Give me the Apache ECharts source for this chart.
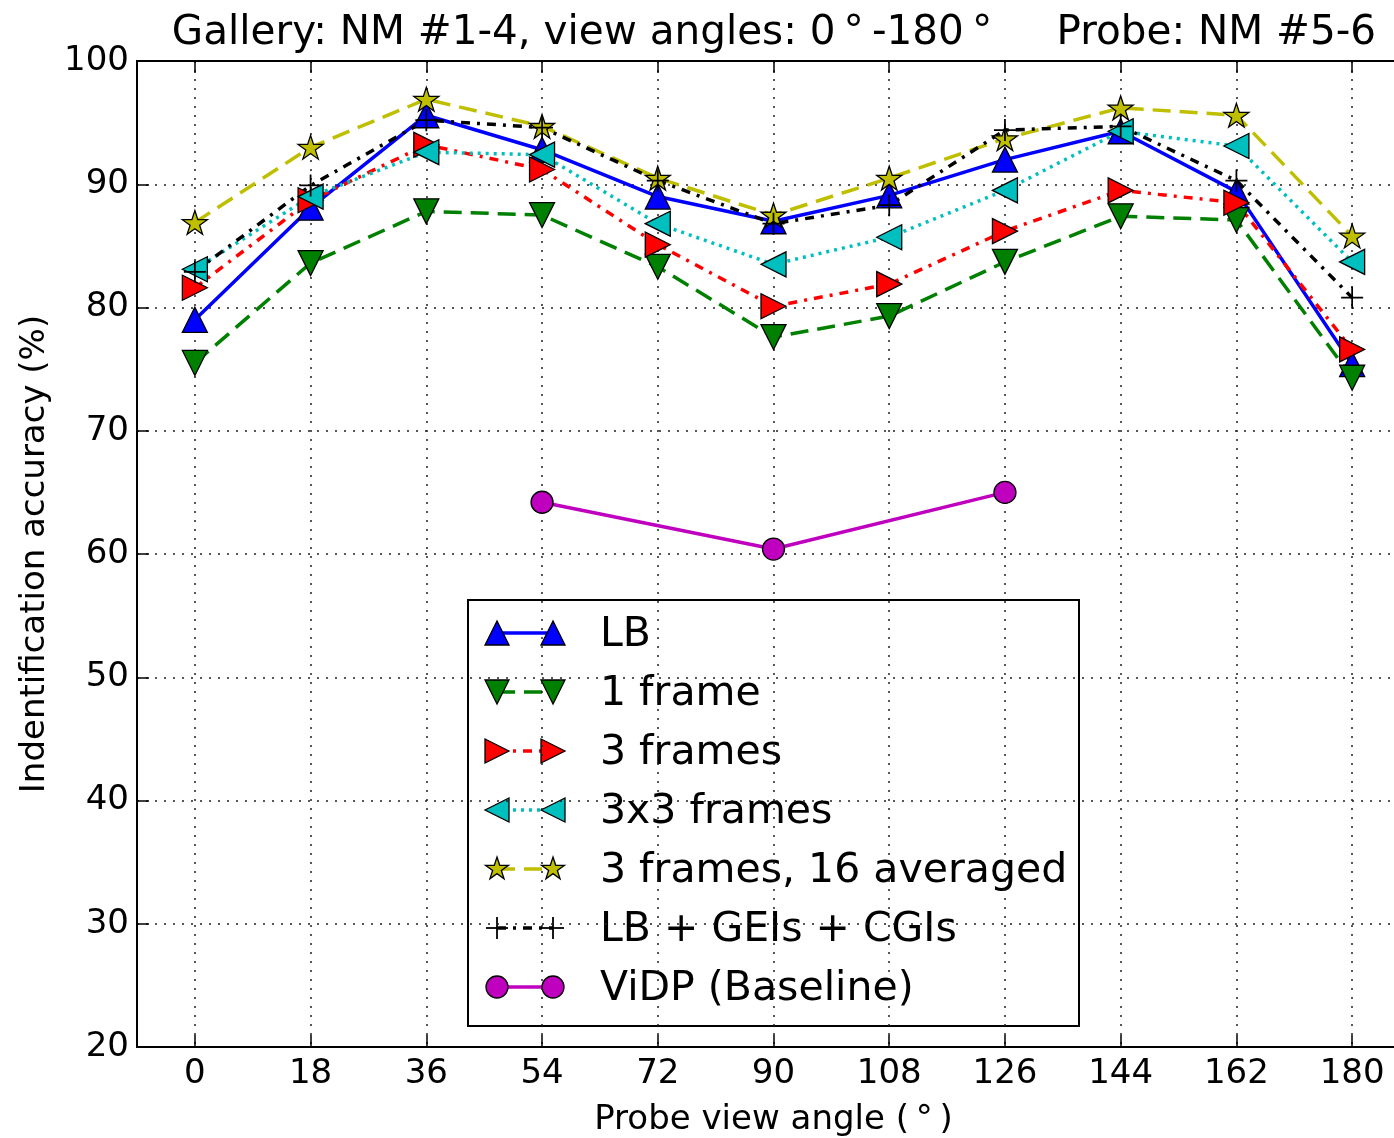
<!DOCTYPE html>
<html>
<head>
<meta charset="utf-8">
<title>Identification accuracy vs probe view angle</title>
<script src="https://cdn.jsdelivr.net/npm/echarts@6/dist/echarts.min.js"></script>
<style>
  html, body { margin: 0; padding: 0; overflow: hidden; background: #fff; }
  #chart { width: 1420px; height: 1138px; }
</style>
</head>
<body>
<div id="chart"></div>
<script>
// Probe view angles (degrees) and tick labels
const angles = [0, 18, 36, 54, 72, 90, 108, 126, 144, 162, 180];
const angleTicks = [0, 18, 36, 54, 72, 90, 108, 126, 144, 162, 180];

// Identification accuracy (%) per method
const lb           = [79.0, 88.1, 95.6, 92.8, 89.0, 87.0, 89.1, 92.0, 94.3, 89.4, 75.4];
const oneFrame     = [75.5, 83.6, 87.8, 87.5, 83.3, 77.6, 79.3, 83.7, 87.4, 87.1, 74.3];
const threeFrames  = [81.6, 88.7, 93.2, 91.2, 85.1, 80.1, 81.9, 86.2, 89.5, 88.5, 76.6];
const threeByThree = [83.1, 89.0, 92.6, 92.4, 86.8, 83.5, 85.7, 89.5, 94.3, 93.1, 83.7];
const averaged16   = [86.9, 93.0, 96.9, 94.7, 90.5, 87.5, 90.5, 93.7, 96.2, 95.6, 85.8];
const combined     = [82.9, 89.9, 95.2, 94.6, 90.3, 86.8, 88.3, 94.4, 94.7, 90.3, 80.8];

// Baseline only reported at three angles
const vidpAngles = [54, 90, 126];
const vidpAcc    = [64.2, 60.4, 65.0];

const FONT = 'DejaVu Sans';
const STAR = 'path://M50,0 L61.23,34.55 L97.55,34.55 L68.16,55.9 L79.39,90.45 L50,69.1 L20.61,90.45 L31.84,55.9 L2.45,34.55 L38.77,34.55 Z';
const PLUS = 'path://M46,0 L54,0 L54,46 L100,46 L100,54 L54,54 L54,100 L46,100 L46,54 L0,54 L0,46 L46,46 Z';

const methods = [
  { name: 'LB', xs: angles, ys: lb, color: '#0000ff', dash: 'solid', marker: 'up' },
  { name: '1 frame', xs: angles, ys: oneFrame, color: '#008000', dash: [18, 9], marker: 'down' },
  { name: '3 frames', xs: angles, ys: threeFrames, color: '#ff0000', dash: [9, 7, 3, 7], marker: 'right' },
  { name: '3x3 frames', xs: angles, ys: threeByThree, color: '#00bfbf', dash: [3, 5], marker: 'left' },
  { name: '3 frames, 16 averaged', xs: angles, ys: averaged16, color: '#bfbf00', dash: [18, 9], marker: 'star' },
  { name: 'LB + GEIs + CGIs', xs: angles, ys: combined, color: '#000000', dash: [9, 7, 3, 7], marker: 'plus' },
  { name: 'ViDP (Baseline)', xs: vidpAngles, ys: vidpAcc, color: '#bf00bf', dash: 'solid', marker: 'circle' }
];

function symbolFor(m) {
  switch (m.marker) {
    case 'up':    return { symbol: 'triangle', symbolRotate: 0, symbolSize: 25 };
    case 'down':  return { symbol: 'triangle', symbolRotate: 180, symbolSize: 25 };
    case 'right': return { symbol: 'triangle', symbolRotate: -90, symbolSize: 25 };
    case 'left':  return { symbol: 'triangle', symbolRotate: 90, symbolSize: 25 };
    case 'star':  return { symbol: STAR, symbolRotate: 0, symbolSize: 25, symbolKeepAspect: true };
    case 'plus':  return { symbol: PLUS, symbolRotate: 0, symbolSize: 22 };
    default:      return { symbol: 'circle', symbolRotate: 0, symbolSize: 22 };
  }
}

const series = methods.map(function (m) {
  const sym = symbolFor(m);
  return Object.assign({
    name: m.name,
    type: 'line',
    data: m.xs.map(function (x, i) { return [x, m.ys[i]]; }),
    showAllSymbol: true,
    lineStyle: { color: m.color, width: 3.5, type: m.dash },
    itemStyle: {
      color: m.color,
      borderColor: '#000',
      borderWidth: m.marker === 'plus' ? 0 : 1.3
    },
    emphasis: { disabled: true },
    animation: false
  }, sym);
});

// Legend box drawn with graphic primitives (line handle between two markers)
function markerShape(kind, cx, cy, color) {
  const s = 24, h = s / 2;
  const edge = { fill: color, stroke: '#000', lineWidth: 1.3 };
  if (kind === 'up')    return { type: 'polygon', shape: { points: [[cx, cy - h], [cx - h, cy + h], [cx + h, cy + h]] }, style: edge };
  if (kind === 'down')  return { type: 'polygon', shape: { points: [[cx, cy + h], [cx - h, cy - h], [cx + h, cy - h]] }, style: edge };
  if (kind === 'right') return { type: 'polygon', shape: { points: [[cx + h, cy], [cx - h, cy - h], [cx - h, cy + h]] }, style: edge };
  if (kind === 'left')  return { type: 'polygon', shape: { points: [[cx - h, cy], [cx + h, cy - h], [cx + h, cy + h]] }, style: edge };
  if (kind === 'star') {
    const pts = [];
    for (let k = 0; k < 10; k++) {
      const r = k % 2 === 0 ? 12 : 4.6;
      const a = -Math.PI / 2 + k * Math.PI / 5;
      pts.push([cx + r * Math.cos(a), cy + r * Math.sin(a)]);
    }
    return { type: 'polygon', shape: { points: pts }, style: edge };
  }
  if (kind === 'plus') {
    return { type: 'group', children: [
      { type: 'line', shape: { x1: cx - 11, y1: cy, x2: cx + 11, y2: cy }, style: { stroke: '#000', lineWidth: 1.8 } },
      { type: 'line', shape: { x1: cx, y1: cy - 11, x2: cx, y2: cy + 11 }, style: { stroke: '#000', lineWidth: 1.8 } }
    ] };
  }
  return { type: 'circle', shape: { cx: cx, cy: cy, r: 11 }, style: edge };
}

const legendChildren = [
  { type: 'rect', shape: { x: 468, y: 600, width: 611, height: 426 }, style: { fill: '#fff', stroke: '#000', lineWidth: 2 } }
];
methods.forEach(function (m, i) {
  const y = 633 + 59 * i;
  legendChildren.push({
    type: 'line', shape: { x1: 497, y1: y, x2: 553, y2: y },
    style: { stroke: m.color, lineWidth: 3.5, lineDash: m.dash === 'solid' ? null : m.dash }
  });
  legendChildren.push(markerShape(m.marker, 497, y, m.color));
  legendChildren.push(markerShape(m.marker, 553, y, m.color));
  legendChildren.push({
    type: 'text', x: 600, y: y + 2,
    style: { text: m.name, fontFamily: FONT, fontSize: 41, fill: '#000', verticalAlign: 'middle', align: 'left' }
  });
});

const titleText = 'Gallery: NM #1-4, view angles: 0\u2009\u00b0\u2009-180\u2009\u00b0' +
  '\u00a0\u00a0\u00a0\u00a0\u00a0Probe: NM #5-6';

const axisText = { fontFamily: FONT, fontSize: 34, color: '#000' };
const gridDots = { color: '#222', width: 1.5, type: [2, 7] };

const option = {
  backgroundColor: '#fff',
  animation: false,
  grid: {
    left: 137, right: 10, top: 61, bottom: 91,
    outerBoundsMode: 'none',
    show: true, borderColor: '#000', borderWidth: 2, backgroundColor: 'transparent'
  },
  xAxis: [
    {
      type: 'value', min: -9, max: 189, position: 'bottom',
      name: 'Probe view angle (\u2009\u00b0\u2009)', nameLocation: 'middle', nameGap: 56,
      nameTextStyle: axisText,
      axisLine: { show: true, onZero: false, lineStyle: { color: '#000', width: 2 } },
      axisTick: { show: true, inside: true, length: 12, customValues: angleTicks, lineStyle: { color: '#000', width: 1.5 } },
      axisLabel: Object.assign({ customValues: angleTicks, margin: 10 }, axisText),
      splitLine: { show: true, lineStyle: gridDots }
    },
    {
      type: 'value', min: -9, max: 189, position: 'top',
      axisLine: { show: true, onZero: false, lineStyle: { color: '#000', width: 2 } },
      axisTick: { show: true, inside: true, length: 12, customValues: angleTicks, lineStyle: { color: '#000', width: 1.5 } },
      axisLabel: { show: false },
      splitLine: { show: false }
    }
  ],
  yAxis: {
    type: 'value', min: 20, max: 100, interval: 10,
    name: 'Indentification accuracy (%)', nameLocation: 'middle', nameGap: 85,
    nameTextStyle: axisText,
    axisLine: { show: true, onZero: false, lineStyle: { color: '#000', width: 2 } },
    axisTick: { show: true, inside: true, length: 12, lineStyle: { color: '#000', width: 1.5 } },
    axisLabel: Object.assign({ margin: 8 }, axisText),
    splitLine: { show: true, lineStyle: gridDots }
  },
  graphic: [
    { type: 'text', x: 774, y: 33, z: 100,
      style: { text: titleText, fontFamily: FONT, fontSize: 40.5, fill: '#000', align: 'center', verticalAlign: 'middle' } },
    { type: 'group', z: 100, children: legendChildren }
  ],
  series: series
};

const chart = echarts.init(document.getElementById('chart'));
chart.setOption(option);
</script>
</body>
</html>
